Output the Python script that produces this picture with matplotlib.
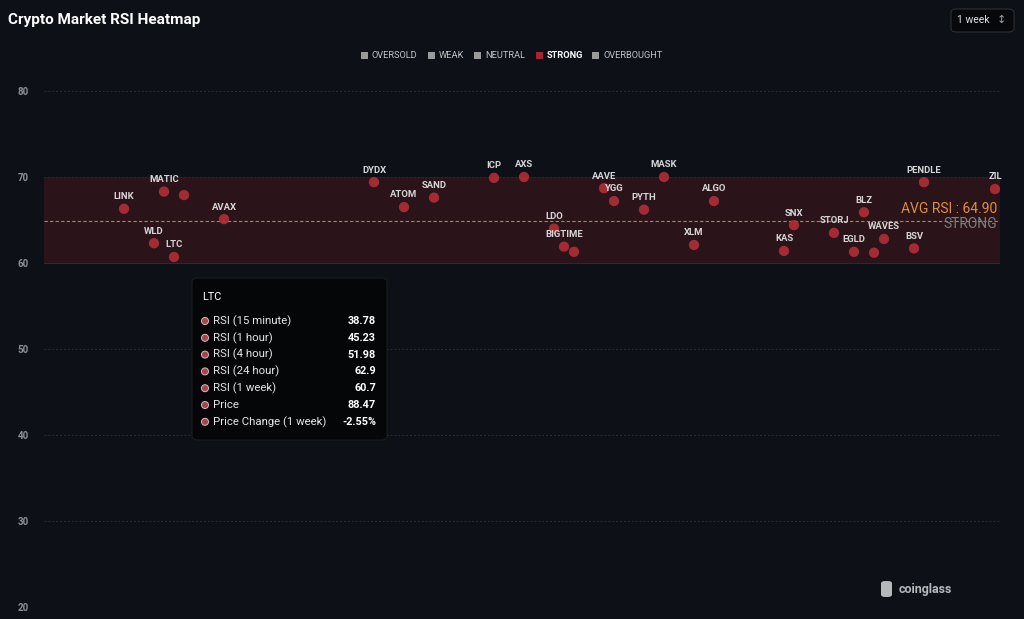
import matplotlib.pyplot as plt
from matplotlib.patches import FancyBboxPatch, Rectangle, Ellipse

# coin index (position on x) and weekly RSI
coins = ["LINK", "WLD", "MATIC", "LTC", "", "AVAX", "DYDX", "ATOM", "SAND",
         "ICP", "AXS", "LDO", "BIGTIME", "", "AAVE", "YGG", "PYTH", "MASK",
         "XLM", "ALGO", "KAS", "SNX", "STORJ", "EGLD", "BLZ", "", "WAVES",
         "BSV", "PENDLE", "ZIL"]
index = [8, 11, 12, 13, 14, 18, 33, 36, 39,
         45, 48, 51, 52, 53, 56, 57, 60, 62,
         65, 67, 74, 75, 79, 81, 82, 83, 84,
         87, 88, 95.1]
rsi = [66.3, 62.3, 68.3, 60.7, 67.9, 65.1, 69.4, 66.5, 67.6,
       69.9, 70.0, 64.0, 61.9, 61.3, 68.7, 67.2, 66.2, 70.0,
       62.1, 67.2, 61.4, 64.4, 63.5, 61.3, 65.9, 61.2, 62.8,
       61.7, 69.4, 68.6]
avg_rsi = 64.90

legend_names = ["OVERSOLD", "WEAK", "NEUTRAL", "STRONG", "OVERBOUGHT"]

tip_coin = "LTC"
tip_labels = ["RSI (15 minute)", "RSI (1 hour)", "RSI (4 hour)", "RSI (24 hour)",
              "RSI (1 week)", "Price", "Price Change (1 week)"]
tip_values = ["38.78", "45.23", "51.98", "62.9", "60.7", "88.47", "-2.55%"]

BG = "#0d1017"
W, H = 1024, 619


def px(x, y):
    return x / W, 1 - y / H


plt.rcParams['font.family'] = ['Roboto', 'DejaVu Sans']
fig = plt.figure(figsize=(W / 100, H / 100), dpi=100, facecolor=BG)
ax = fig.add_axes([44 / W, 1 - 607 / H, 956 / W, (607 - 91) / H])
ax.set_facecolor(BG)

ax.set_xlim(0, 95.6)
ax.set_ylim(20, 80)
ax.set_yticks([20, 30, 40, 50, 60, 70, 80])
ax.grid(axis='y', color='#2a2e37', linestyle=(0, (2, 2)), linewidth=0.7)
ax.set_xticks([])
ax.tick_params(axis='y', length=0, pad=11, labelcolor='#8b909a', labelsize=7)
for t in ax.get_yticklabels():
    t.set_fontweight('bold')
for s in ax.spines.values():
    s.set_visible(False)

# strong zone
ax.axhspan(60, 70, facecolor='#2a1419', edgecolor='none', zorder=1)
ax.axhline(60, color='#4b1a21', linewidth=0.8, zorder=1.5)
ax.axhline(avg_rsi, color='#c97c3c', linestyle=(0, (3, 2)), linewidth=0.8, zorder=2)
ax.text(95.3, avg_rsi + 0.55, "AVG RSI : %.2f" % avg_rsi, color='#e09040',
        fontsize=10, ha='right', va='bottom', zorder=3)
ax.text(95.3, avg_rsi + 0.5, "STRONG", color='#7d7d80', fontsize=10,
        ha='right', va='top', zorder=3)

ax.scatter(index, rsi, s=55, color='#b8303a', alpha=0.85, edgecolors='none', zorder=4)
for name, x, y in zip(coins, index, rsi):
    if name:
        ax.annotate(name, (x, y), xytext=(0, 5.5), textcoords='offset points',
                    ha='center', va='bottom', color='#d6d6d8', fontsize=6.8,
                    fontweight='bold', zorder=5)

# title and selector
fig.text(*px(8, 20), "Crypto Market RSI Heatmap", color='white', fontsize=11,
         fontweight='bold', ha='left', va='center')
fig.patches.append(FancyBboxPatch(px(951, 32), 63 / W, 23 / H,
                                  boxstyle="round,pad=0,rounding_size=0.006",
                                  transform=fig.transFigure, facecolor='#07080c',
                                  edgecolor='#2c2f36', linewidth=0.8))
fig.text(*px(957, 20), "1 week", color='#e2e2e4', fontsize=7.5, ha='left', va='center')
fig.text(*px(1001, 20), "\u2195", color='#9a9ca2', fontsize=8, ha='center', va='center')

# legend
leg_x = [361, 428, 474, 536, 592]
for name, lx in zip(legend_names, leg_x):
    strong = name == "STRONG"
    fig.patches.append(Rectangle(px(lx, 59), 7 / W, 7 / H, transform=fig.transFigure,
                                 facecolor='#a3262f' if strong else '#9a9a9c',
                                 edgecolor='none'))
    fig.text(*px(lx + 11, 55.5), name, fontsize=6.7, ha='left', va='center',
             color='white' if strong else '#c4c4c6',
             fontweight='bold' if strong else 'normal')

# tooltip
fig.patches.append(FancyBboxPatch(px(192, 440), 195 / W, 162 / H,
                                  boxstyle="round,pad=0,rounding_size=0.006",
                                  transform=fig.transFigure, facecolor='#050608',
                                  edgecolor='#1b1d22', linewidth=0.8, zorder=10))
fig.text(*px(202, 297), tip_coin, color='white', fontsize=7.8, ha='left',
         va='center', zorder=11)
for i, (lab, val) in enumerate(zip(tip_labels, tip_values)):
    yy = 321 + i * 16.8
    fig.patches.append(Ellipse(px(205, yy), 7 / W, 7 / H, transform=fig.transFigure,
                               facecolor='#a4444e', edgecolor='#e3b6bb',
                               linewidth=0.7, zorder=11))
    fig.text(*px(213, yy), lab, color='#e6e6e8', fontsize=8.2, ha='left',
             va='center', zorder=11)
    fig.text(*px(376, yy), val, color='white', fontsize=7.8, ha='right',
             va='center', fontweight='bold', zorder=11)

# watermark
fig.text(*px(899, 589), "coinglass", color='#b7b8bc', fontsize=9,
         fontweight='bold', ha='left', va='center')
fig.patches.append(FancyBboxPatch(px(881, 597), 11 / W, 16 / H,
                                  boxstyle="round,pad=0,rounding_size=0.004",
                                  transform=fig.transFigure, facecolor='#b7b8bc',
                                  edgecolor='none'))

fig.savefig("out.png", dpi=100, facecolor=BG)
